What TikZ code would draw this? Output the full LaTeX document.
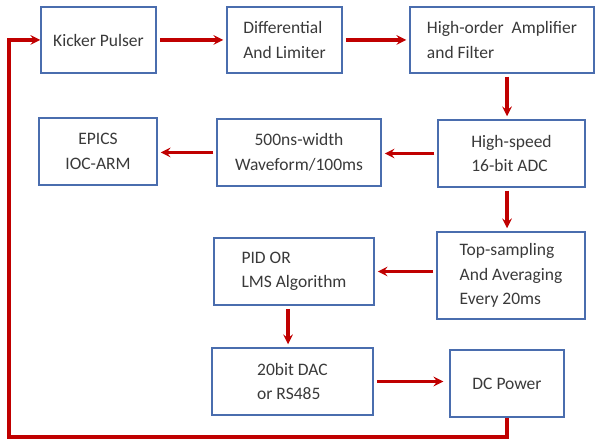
\documentclass[tikz,border=0pt]{standalone}
\usepackage{fontspec}
\setmainfont{Carlito}
\usetikzlibrary{arrows}
\definecolor{boxblue}{HTML}{4A6DAE}
\definecolor{arrred}{HTML}{C00000}
\definecolor{txtgray}{HTML}{3A3A3A}
\tikzset{%
    >=stealth,
    block/.style={draw=boxblue,line width=1.5pt,fill=white,text=txtgray,align=left,
        font=\fontsize{17.5}{24.5}\selectfont,inner sep=0pt},
    flow/.style={->,draw=arrred,line width=3.2pt,shorten >=3pt,shorten <=3pt},
    back/.style={->,draw=arrred,line width=3.2pt,rounded corners=0pt}
}
\begin{document}
\begin{tikzpicture}[x=1pt,y=-1pt]
            \useasboundingbox (0,0) rectangle (595,441);
            \node [block,minimum width=115pt,minimum height=66pt] (kicker) at (98.5,40) {Kicker Pulser};
            \node [block,minimum width=115pt,minimum height=66pt] (diff) at (284.5,40) {Differential\\And Limiter};
            \node [block,minimum width=184pt,minimum height=66pt] (amp) at (502,40) {High-order~ Amplifier\\and Filter};
            \node [block,minimum width=147pt,minimum height=67pt] (adc) at (511.5,153.5) {High-speed\\16-bit ADC};
            \node [block,minimum width=164pt,minimum height=67pt,align=center] (wave) at (299,152.5) {500ns-width\\Waveform/100ms};
            \node [block,minimum width=118pt,minimum height=67pt,align=center] (epics) at (98,151.5) {EPICS\\IOC-ARM};
            \node [block,minimum width=148pt,minimum height=87pt] (topsamp) at (511,275.5) {Top-sampling\\And Averaging\\Every 20ms};
            \node [block,minimum width=160pt,minimum height=67pt] (pid) at (294,271.5) {PID OR\\LMS Algorithm};
            \node [block,minimum width=161pt,minimum height=67pt] (dac) at (292.5,381.5) {20bit DAC\\or RS485};
            \node [block,minimum width=114pt,minimum height=67pt] (dcpow) at (507,383.5) {DC Power};
            \coordinate (lowleft) at (9,437);
            %%%%%
            \draw [flow] (kicker) -- (diff);
            \draw [flow] (diff) -- (amp);
            \draw [flow] ([xshift=-4.5pt]adc.north |- amp.south) -- ([xshift=-4.5pt]adc.north);
            \draw [flow] (adc.west) -- (adc.west -| wave.east);
            \draw [flow] (wave.west) -- (wave.west -| epics.east);
            \draw [flow] ([xshift=-4.5pt]adc.south) -- ([xshift=-4.5pt]adc.south |- topsamp.north);
            \draw [flow] (topsamp.west |- pid) -- (pid.east);
            \draw [flow] ([xshift=-6pt]pid.south) -- ([xshift=-6pt]pid.south |- dac.north);
            \draw [flow,shorten >=6pt] (dac.east) -- (dac.east -| dcpow.west);
            \draw [back] (dcpow.south) |- (lowleft) |- (kicker.west);
\end{tikzpicture}
\end{document}
